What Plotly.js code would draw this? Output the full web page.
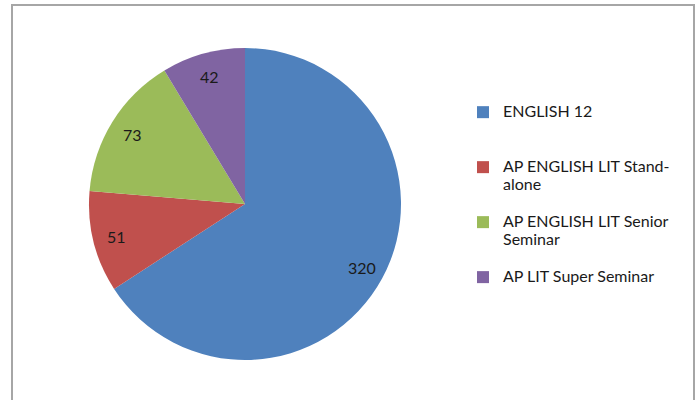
<!DOCTYPE html>
<html>
<head>
<meta charset="utf-8">
<script src="https://cdn.plot.ly/plotly-3.0.1.min.js"></script>
<style>
html,body{margin:0;padding:0;background:#fff;}
#chart{width:698px;height:400px;}
</style>
</head>
<body>
<div id="chart"></div>
<script>
const categories = ["ENGLISH 12", "AP ENGLISH LIT Stand-alone", "AP ENGLISH LIT Senior Seminar", "AP LIT Super Seminar"];
const legendLines = [["ENGLISH 12"], ["AP ENGLISH LIT Stand-", "alone"], ["AP ENGLISH LIT Senior", "Seminar"], ["AP LIT Super Seminar"]];
const values = [320, 51, 73, 42];
const colors = ["#4F81BD", "#C0504D", "#9BBB59", "#8064A2"];

const W = 698, H = 400;
const FONT = "Lato, 'Open Sans', sans-serif";
const pieLeft = 89, pieRight = 401, pieTop = 48, pieBottom = 360;

// legend labels: each entry padded to three lines so entries are evenly spaced
const legendLabels = legendLines.map(lines => {
  const padded = lines.map(t => '<span style="font-size:16px">' + t + '</span>');
  while (padded.length < 3) padded.push(' ');
  return padded.join('<br>');
});

// data labels placed at the middle angle of each slice
const total = values.reduce((a, b) => a + b, 0);
const cx = (pieLeft + pieRight) / 2, cy = (pieTop + pieBottom) / 2, r = (pieRight - pieLeft) / 2;
let cum = 0;
const annotations = values.map(v => {
  const mid = (cum + v / 2) / total * 2 * Math.PI;
  cum += v;
  const px = cx + 0.85 * r * Math.sin(mid);
  const py = cy - 0.85 * r * Math.cos(mid);
  return {
    text: String(v), xref: "paper", yref: "paper", x: px / W, y: 1 - py / H,
    xanchor: "center", yanchor: "middle", showarrow: false,
    font: {family: FONT, size: 16, color: "#1a1a1a"}
  };
});

const data = [{
  type: "pie",
  labels: legendLabels,
  values: values,
  sort: false,
  direction: "clockwise",
  rotation: 0,
  marker: {colors: colors, line: {width: 0}},
  textinfo: "none",
  domain: {x: [pieLeft / W, pieRight / W], y: [1 - pieBottom / H, 1 - pieTop / H]},
  hoverinfo: "label+value"
}];

const layout = {
  width: W, height: H,
  margin: {l: 0, r: 0, t: 0, b: 0},
  paper_bgcolor: "#ffffff",
  showlegend: true,
  legend: {
    x: 463 / W, xanchor: "left",
    y: 1 - 97 / H, yanchor: "top",
    valign: "top",
    font: {family: FONT, size: 13.33, color: "#1a1a1a"},
    bgcolor: "rgba(0,0,0,0)",
    itemwidth: 30
  },
  annotations: annotations,
  shapes: [{
    type: "rect", xref: "paper", yref: "paper",
    x0: 12 / W, x1: 694 / W, y0: -0.05, y1: 1 - 5 / H,
    line: {color: "#a6a6a6", width: 2}
  }]
};

Plotly.newPlot("chart", data, layout, {displayModeBar: false, staticPlot: true});
</script>
</body>
</html>
